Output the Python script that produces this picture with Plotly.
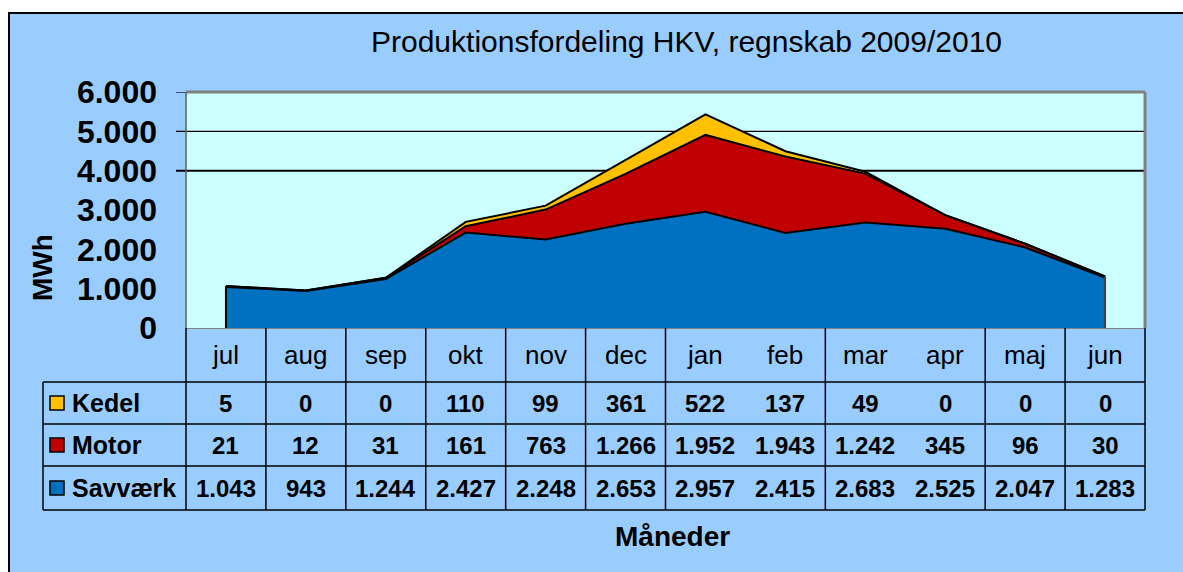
import plotly.graph_objects as go

# ---- data ----
months = ["jul", "aug", "sep", "okt", "nov", "dec", "jan", "feb", "mar", "apr", "maj", "jun"]
kedel = [5, 0, 0, 110, 99, 361, 522, 137, 49, 0, 0, 0]
motor = [21, 12, 31, 161, 763, 1266, 1952, 1943, 1242, 345, 96, 30]
savvaerk = [1043, 943, 1244, 2427, 2248, 2653, 2957, 2415, 2683, 2525, 2047, 1283]
series_names = ["Kedel", "Motor", "Savværk"]
y_ticks = [0, 1000, 2000, 3000, 4000, 5000, 6000]

title_text = "Produktionsfordeling HKV, regnskab 2009/2010"
x_title = "Måneder"
y_title = "MWh"

# ---- style ----
FONT = "Liberation Sans, Arial, sans-serif"
C_BG = "#99CCFF"
C_PLOT = "#CCFFFF"
C_BLUE = "#0070C0"
C_RED = "#C00000"
C_YEL = "#FFC000"
W, H = 1183, 572
ML, MR, MT, MB = 186, 38, 92, 244
PW, PH = W - ML - MR, H - MT - MB


def px(xp):  # page x pixel -> paper
    return (xp - ML) / PW


def py(yp):  # page y pixel -> paper
    return (H - MB - yp) / PH


def fmt(v):
    return f"{v:,}".replace(",", ".")


fig = go.Figure()
fig.add_trace(go.Scatter(x=months, y=savvaerk, name="Savværk", stackgroup="one",
                         mode="lines", line=dict(color="black", width=2),
                         fillcolor=C_BLUE))
fig.add_trace(go.Scatter(x=months, y=motor, name="Motor", stackgroup="one",
                         mode="lines", line=dict(color="black", width=2),
                         fillcolor=C_RED))
fig.add_trace(go.Scatter(x=months, y=kedel, name="Kedel", stackgroup="one",
                         mode="lines", line=dict(color="black", width=2),
                         fillcolor=C_YEL))
# vertical outline edges at the first and last month
tot_first = savvaerk[0] + motor[0] + kedel[0]
tot_last = savvaerk[-1] + motor[-1] + kedel[-1]
fig.add_trace(go.Scatter(x=[months[0], months[0]], y=[0, tot_first], mode="lines",
                         line=dict(color="black", width=2), hoverinfo="skip"))
fig.add_trace(go.Scatter(x=[months[-1], months[-1]], y=[0, tot_last], mode="lines",
                         line=dict(color="#404040", width=2), hoverinfo="skip"))

shapes = []
# white outer margin + black frame
shapes.append(dict(type="rect", xref="paper", yref="paper", x0=px(-5), x1=px(1200),
                   y0=py(-5), y1=py(13), fillcolor="white", line=dict(width=0), layer="above"))
shapes.append(dict(type="rect", xref="paper", yref="paper", x0=px(-5), x1=px(8),
                   y0=py(-5), y1=py(600), fillcolor="white", line=dict(width=0), layer="above"))
shapes.append(dict(type="line", xref="paper", yref="paper", x0=px(8), x1=px(1200),
                   y0=py(13), y1=py(13), line=dict(color="black", width=2), layer="above"))
shapes.append(dict(type="line", xref="paper", yref="paper", x0=px(9), x1=px(9),
                   y0=py(13), y1=py(600), line=dict(color="black", width=2), layer="above"))

# gridlines (only 4000 & 5000 visible in the reference) + tick at 6000
for gv, gw in [(5000, 1.2), (4000, 2)]:
    shapes.append(dict(type="line", xref="paper", yref="y", x0=px(176), x1=1,
                       y0=gv, y1=gv, line=dict(color="black", width=gw), layer="below"))
shapes.append(dict(type="line", xref="paper", yref="y", x0=px(176), x1=0,
                   y0=6000, y1=6000, line=dict(color="black", width=1.2), layer="below"))

# plot frame
shapes.append(dict(type="line", xref="paper", yref="paper", x0=0, x1=1, y0=1, y1=1,
                   line=dict(color="#808080", width=3), layer="above"))
shapes.append(dict(type="line", xref="paper", yref="paper", x0=1, x1=1, y0=0, y1=1,
                   line=dict(color="#808080", width=3), layer="above"))
shapes.append(dict(type="line", xref="paper", yref="paper", x0=0, x1=0, y0=0, y1=1,
                   line=dict(color="#606060", width=1.5), layer="above"))

# data table lines
row_edges = [382, 424, 466, 510]
for ry in row_edges:
    shapes.append(dict(type="line", xref="paper", yref="paper", x0=px(43), x1=1,
                       y0=py(ry), y1=py(ry), line=dict(color="black", width=1.5)))
shapes.append(dict(type="line", xref="paper", yref="paper", x0=px(43), x1=px(43),
                   y0=py(382), y1=py(510), line=dict(color="black", width=1.5)))
shapes.append(dict(type="line", xref="paper", yref="paper", x0=0, x1=0,
                   y0=py(328), y1=py(510), line=dict(color="black", width=1.5)))
shapes.append(dict(type="line", xref="paper", yref="paper", x0=1, x1=1,
                   y0=py(328), y1=py(510), line=dict(color="black", width=1.5)))
missing = {6.5, 8.5}  # separators not drawn in the reference
for i in range(1, len(months)):
    b = i - 0.5
    if b in missing:
        continue
    shapes.append(dict(type="line", xref="x", yref="paper", x0=b, x1=b,
                       y0=py(328), y1=py(510), line=dict(color="black", width=1.5)))

# legend keys in table
key_colors = [C_YEL, C_RED, C_BLUE]
row_centers = [403, 445, 488]
for c, rc in zip(key_colors, row_centers):
    shapes.append(dict(type="rect", xref="paper", yref="paper", x0=px(50), x1=px(64),
                       y0=py(rc - 7), y1=py(rc + 7), fillcolor=c,
                       line=dict(color="black", width=1.5)))

annotations = []
annotations.append(dict(text=title_text, xref="paper", yref="paper", x=px(686), y=py(42),
                        showarrow=False, xanchor="center", yanchor="middle",
                        font=dict(family=FONT, size=30, color="black")))
annotations.append(dict(text=f"<b>{x_title}</b>", xref="paper", yref="paper", x=px(672),
                        y=py(536), showarrow=False, xanchor="center", yanchor="middle",
                        font=dict(family=FONT, size=28, color="black")))
annotations.append(dict(text=f"<b>{y_title}</b>", xref="paper", yref="paper", x=px(42),
                        y=py(268), showarrow=False, xanchor="center", yanchor="middle",
                        textangle=-90, font=dict(family=FONT, size=28, color="black")))
for m in months:
    annotations.append(dict(text=m, xref="x", yref="paper", x=m, y=py(355),
                            showarrow=False, xanchor="center", yanchor="middle",
                            font=dict(family=FONT, size=26, color="black")))
for name, vals, rc in zip(series_names, [kedel, motor, savvaerk], row_centers):
    annotations.append(dict(text=f"<b>{name}</b>", xref="paper", yref="paper", x=px(70),
                            y=py(rc), showarrow=False, xanchor="left", yanchor="middle",
                            font=dict(family=FONT, size=25, color="black")))
    for m, v in zip(months, vals):
        annotations.append(dict(text=f"<b>{fmt(v)}</b>", xref="x", yref="paper", x=m,
                                y=py(rc), showarrow=False, xanchor="center",
                                yanchor="middle",
                                font=dict(family=FONT, size=24, color="black")))

fig.update_layout(
    width=W, height=H,
    margin=dict(l=ML, r=MR, t=MT, b=MB, pad=0),
    paper_bgcolor=C_BG, plot_bgcolor=C_PLOT,
    showlegend=False,
    separators=",.",
    shapes=shapes, annotations=annotations,
    xaxis=dict(type="category", categoryorder="array", categoryarray=months,
               range=[-0.5, len(months) - 0.5], showticklabels=False, ticks="",
               showgrid=False, zeroline=False, showline=True, linecolor="#808080",
               linewidth=1, fixedrange=True),
    yaxis=dict(range=[0, 6000], tickvals=y_ticks, tickformat=",d", showgrid=False,
               zeroline=False, ticks="", ticklabelstandoff=28,
               tickfont=dict(family=FONT, size=32, color="black", weight="bold"),
               showline=False, fixedrange=True),
)

fig.write_html("out.html", config={"displayModeBar": False},
               post_script="document.body.style.margin='0';document.body.style.overflow='hidden';")
